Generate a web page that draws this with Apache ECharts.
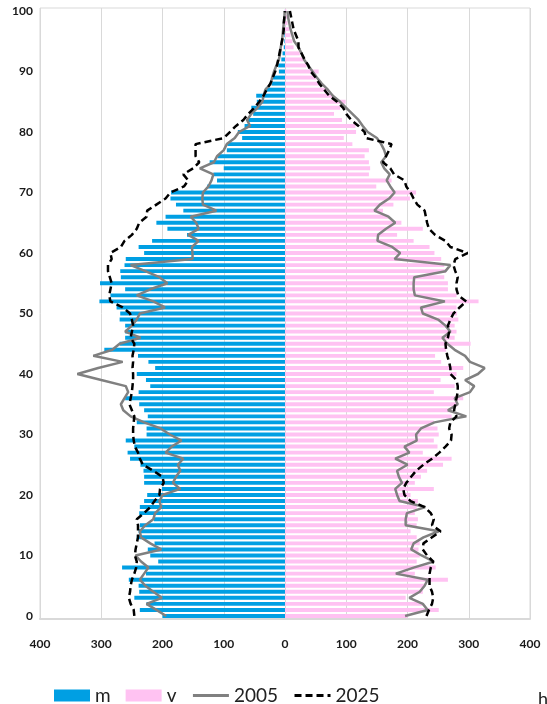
<!DOCTYPE html>
<html>
<head>
<meta charset="utf-8">
<script src="https://cdn.jsdelivr.net/npm/echarts@6/dist/echarts.min.js"></script>
<style>
html,body{margin:0;padding:0;background:#fff;}
#chart{width:547px;height:704px;}
</style>
</head>
<body>
<div id="chart"></div>
<script>
// leeftijden 0..100
var ages = [];
for (var i = 0; i <= 100; i++) ages.push(String(i));

// staven (m links, v rechts)
var m = [200,237,226,246,238,239,255,227,266,207,
  220,224,213,242,239,237,214,238,237,230,
  225,201,230,230,231,236,253,257,246,260,
  226,226,242,224,230,238,261,239,220,227,
  242,212,223,240,295,270,261,261,261,270,
  269,275,303,285,261,302,268,269,262,260,
  230,239,217,160,192,210,195,166,178,187,
  186,127,111,117,100,123,110,95,94,70,
  77,66,62,52,55,46,47,32,22,20,
  10,11,6,4,2,1,1,0.5,0.3,0.2,0.1];
var v = [200,251,225,197,225,228,266,212,246,215,
  220,218,220,215,205,215,217,212,215,217,
  205,243,212,222,232,258,272,225,249,243,
  251,249,243,272,272,282,291,243,277,254,
  280,291,255,245,263,303,277,280,277,283,
  281,280,316,280,266,266,260,263,260,255,
  244,236,210,183,225,190,169,160,177,204,
  214,149,174,137,139,137,130,137,110,96,
  116,115,93,80,90,99,79,68,60,51,
  55,35,32,24,14,12,9,7,4,3,2];

// lijn 2005
var m2005 = [194,210,226,201,215,228,237,230,223,235,
  244,202,220,235,237,228,215,212,202,205,
  200,171,183,178,171,175,166,195,185,169,
  188,203,230,252,264,268,262,256,260,300,
  339,305,265,313,282,270,236,261,250,242,
  237,196,215,242,220,192,205,228,252,151,
  151,152,141,158,141,145,154,112,134,135,
  134,125,120,117,139,116,111,100,95,82,
  75,57,62,55,45,37,35,32,23,21,
  18,14,10,8,7,5,4,3,2,1,0.5];
var v2005 = [196,233,225,203,220,228,233,181,210,243,
  223,206,210,226,251,197,197,199,229,187,
  183,180,191,186,183,200,180,203,195,215,
  214,222,244,296,266,282,277,302,309,294,
  315,326,302,294,277,265,257,270,262,250,
  225,222,261,212,210,210,211,262,270,179,
  188,175,151,152,165,180,169,146,155,170,
  179,172,166,171,162,157,165,162,157,150,
  135,127,120,110,100,90,78,70,60,52,
  45,38,31,27,22,15,12,9,7,5,4];

// lijn 2025
var m2025 = [246,247,252,255,253,252,250,246,243,242,
  245,244,242,240,240,240,242,230,220,213,
  205,204,198,200,215,232,237,240,245,247,
  248,248,247,246,250,254,252,250,249,248,
  248,249,248,249,247,246,252,250,248,250,
  253,265,285,287,285,283,286,289,289,283,
  285,268,262,250,242,238,226,225,210,195,
  187,165,158,166,150,140,146,146,146,100,
  90,80,68,60,50,42,35,30,24,20,
  16,13,11,9,7,5,3,2,2,1,0];
var v2025 = [231,235,240,242,240,236,236,236,238,242,
  232,225,226,240,254,240,243,238,228,205,
  195,193,198,206,214,226,240,252,262,271,
  272,268,270,280,276,278,280,282,282,280,
  270,270,268,265,263,262,266,268,266,270,
  275,285,296,283,280,280,282,278,275,278,
  298,270,262,245,235,232,230,228,216,210,
  205,198,195,178,172,160,165,170,174,132,
  130,120,108,100,95,85,72,64,56,50,
  42,38,32,27,22,22,18,14,12,10,8];

function neg(a){ return a.map(function(x){ return -x; }); }

var chart = echarts.init(document.getElementById('chart'));
var labelFont = { fontFamily: 'Lato', fontWeight: 'bold', fontSize: 12, color: '#1a1a1a' };
var dash = [7, 4];

var option = {
  animation: false,
  backgroundColor: '#fff',
  grid: {
    left: 40, right: 17, top: 8, bottom: 85,
    show: true, borderColor: '#d9d9d9', borderWidth: 1
  },
  legend: {
    left: 49, top: 681,
    itemWidth: 36, itemHeight: 12, itemGap: 15,
    textStyle: { fontFamily: 'Lato', fontSize: 19, color: '#222' },
    data: [
      { name: 'm', icon: 'rect' },
      { name: 'v', icon: 'rect' },
      { name: '2005', itemStyle: { opacity: 0 }, lineStyle: { width: 3 } },
      { name: '2025', itemStyle: { opacity: 0 }, lineStyle: { width: 3 } }
    ]
  },
  xAxis: {
    type: 'value', min: -400, max: 400, interval: 100,
    axisLine: { show: true, lineStyle: { color: '#d9d9d9', width: 2 } },
    axisTick: { show: false },
    splitLine: { lineStyle: { color: '#d9d9d9', width: 1 } },
    axisLabel: Object.assign({ margin: 19, formatter: function(x){ return Math.abs(x); } }, labelFont)
  },
  yAxis: {
    type: 'category', data: ages, boundaryGap: true,
    axisLine: { show: false }, axisTick: { show: false },
    splitLine: { show: false },
    axisLabel: Object.assign({ interval: 9, margin: 7 }, labelFont)
  },
  series: [
    { name: 'm', type: 'bar', stack: 'p', data: neg(m), barCategoryGap: '35%',
      itemStyle: { color: '#009fe3' } },
    { name: 'v', type: 'bar', stack: 'p', data: v, barCategoryGap: '35%',
      itemStyle: { color: '#ffc2f2' } },
    { name: '2005', type: 'line', data: neg(m2005), symbol: 'none', z: 3,
      itemStyle: { color: '#808080' }, lineStyle: { color: '#808080', width: 2.5 } },
    { name: '2005', type: 'line', data: v2005, symbol: 'none', z: 3,
      itemStyle: { color: '#808080' }, lineStyle: { color: '#808080', width: 2.5 } },
    { name: '2025', type: 'line', data: neg(m2025), symbol: 'none', z: 4,
      itemStyle: { color: '#000' }, lineStyle: { color: '#000', width: 2.5, type: dash } },
    { name: '2025', type: 'line', data: v2025, symbol: 'none', z: 4,
      itemStyle: { color: '#000' }, lineStyle: { color: '#000', width: 2.5, type: dash } }
  ],
  graphic: [
    { type: 'text', left: 538, top: 690,
      style: { text: 'h', fontFamily: 'Lato', fontSize: 18, fill: '#222' } }
  ]
};
chart.setOption(option);
</script>
</body>
</html>
